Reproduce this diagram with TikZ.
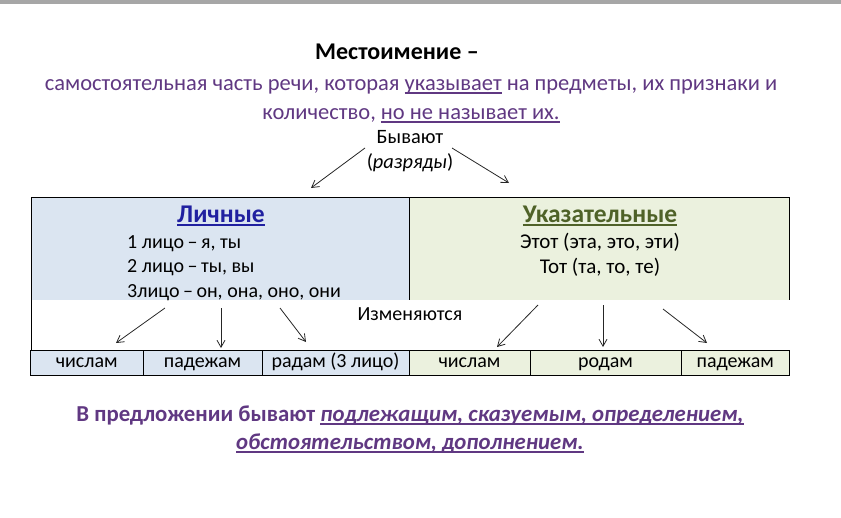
\documentclass[tikz,border=0pt]{standalone}
\usepackage{fontspec}
\setmainfont{Carlito}
\usetikzlibrary{arrows.meta}
\newcommand{\ulx}[1]{\leavevmode\setbox0\hbox{#1}\rlap{\rule[-3.5pt]{\wd0}{1.4pt}}\box0\relax}
\definecolor{purp}{RGB}{96,56,130}
\definecolor{hblue}{RGB}{32,32,160}
\definecolor{hgreen}{RGB}{79,98,40}
\definecolor{fblue}{RGB}{219,229,241}
\definecolor{fgreen}{RGB}{235,241,222}
\newcommand{\dsh}{\hspace{3.5pt}–\hspace{3.5pt}}
\tikzset{
  txt/.style={inner sep=0pt, anchor=base},
  arr/.style={-{Straight Barb[length=7pt,width=8pt]}, line width=0.8pt, draw=black!85},
  cell/.style={draw=black, line width=1pt, inner sep=0pt, minimum height=25pt, text height=14pt, text depth=4pt, font=\fontsize{20}{22}\selectfont},
  border/.style={draw=black, line width=1pt}
}
\begin{document}
\begin{tikzpicture}[x=1pt,y=-1pt]
\useasboundingbox (0,0) rectangle (841,517);
\fill[black!35] (0,0) rectangle (841,4);

% title and definition
\node[txt, font=\fontsize{24}{26}\selectfont\bfseries] (title) at (397,59) {Местоимение –};
\node[txt, text=purp, font=\fontsize{22.5}{26}\selectfont] (def1) at (411,90) {самостоятельная часть речи, которая \ulx{указывает} на предметы, их признаки и};
\node[txt, text=purp, font=\fontsize{22.5}{26}\selectfont] (def2) at (411,119) {количество, \ulx{но не называет их.}};

\node[txt, font=\fontsize{20.4}{22}\selectfont] (byv) at (410,143) {Бывают};
\node[txt, font=\fontsize{20.4}{22}\selectfont] (razr) at (410,168) {(\textit{разряды})};

% upper boxes
\node[fill=fblue, inner sep=0pt, minimum width=378pt, minimum height=103pt] (lbox) at (220,248.5) {};
\node[fill=fgreen, inner sep=0pt, minimum width=380pt, minimum height=103pt] (rbox) at (599,248.5) {};
\draw[border] (31,375) -- (31,197) -- (789,197) -- (789,300);
\draw[border] (409,197) -- (409,300);

\node[txt, text=hblue, font=\fontsize{25.5}{28}\selectfont\bfseries] (lich) at (221,222) {\ulx{Личные}};
\node[txt, anchor=base west, font=\fontsize{20}{22}\selectfont] (l1) at (127,248) {1 лицо\dsh я, ты};
\node[txt, anchor=base west, font=\fontsize{20}{22}\selectfont] (l2) at (127,272) {2 лицо\dsh ты, вы};
\node[txt, anchor=base west, font=\fontsize{20}{22}\selectfont] (l3) at (127,297) {3лицо\dsh он, она, оно, они};

\node[txt, text=hgreen, font=\fontsize{25.5}{28}\selectfont\bfseries] (ukaz) at (600,222) {\ulx{Указательные}};
\node[txt, font=\fontsize{21}{23}\selectfont] (u1) at (600,248) {Этот (эта, это, эти)};
\node[txt, font=\fontsize{21}{23}\selectfont] (u2) at (600,273) {Тот (та, то, те)};

\node[txt, font=\fontsize{20}{22}\selectfont] (izm) at (410,320) {Изменяются};

% bottom row
\node[cell, fill=fblue, minimum width=112.5pt] (c1) at (86.75,362.5) {числам};
\node[cell, fill=fblue, minimum width=119pt] (c2) at (202.5,362.5) {падежам};
\node[cell, fill=fblue, minimum width=147pt] (c3) at (335.5,362.5) {радам (3 лицо)};
\node[cell, fill=fgreen, minimum width=121pt] (c4) at (469.5,362.5) {числам};
\node[cell, fill=fgreen, minimum width=151pt] (c5) at (605.5,362.5) {родам};
\node[cell, fill=fgreen, minimum width=108.5pt] (c6) at (735.25,362.5) {падежам};

% arrow coordinates
\coordinate (b1) at (365,148); \coordinate (b1e) at (311,188);
\coordinate (b2) at (452,148); \coordinate (b2e) at (509,183);
\coordinate (a1) at (165,308); \coordinate (a1e) at (116,343);
\coordinate (a2) at (221,308); \coordinate (a2e) at (221,348);
\coordinate (a3) at (280,308); \coordinate (a3e) at (306,342);
\coordinate (a4) at (538,305); \coordinate (a4e) at (497,347);
\coordinate (a5) at (603,305); \coordinate (a5e) at (603,347);
\coordinate (a6) at (663,309); \coordinate (a6e) at (707,343);
\foreach \s/\e in {b1/b1e,b2/b2e,a1/a1e,a2/a2e,a3/a3e,a4/a4e,a5/a5e,a6/a6e}
  \draw[arr] (\s) -- (\e);

% bottom text
\node[txt, text=purp, font=\fontsize{22.8}{26}\selectfont\bfseries] (p1) at (410,421) {В предложении бывают \textit{\ulx{подлежащим, сказуемым, определением,}}};
\node[txt, text=purp, font=\fontsize{22.8}{26}\selectfont\bfseries] (p2) at (410,449) {\textit{\ulx{обстоятельством, дополнением.}}};
\end{tikzpicture}
\end{document}
